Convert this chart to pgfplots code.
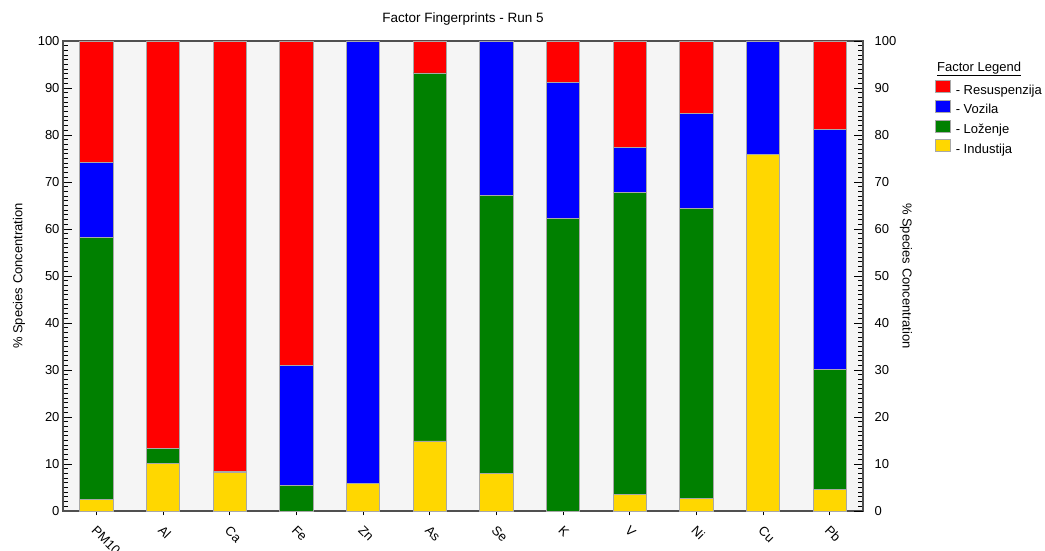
\documentclass[border=0pt]{standalone}
\usepackage{fontspec}
\setmainfont{Liberation Sans}
\usepackage{pgfplots}
\usepackage{pgfplotstable}
\pgfplotsset{compat=1.18}
\definecolor{cred}{HTML}{FF0000}
\definecolor{cblue}{HTML}{0000FF}
\definecolor{cgreen}{HTML}{008000}
\definecolor{cyellow}{HTML}{FFD700}
\definecolor{bgray}{HTML}{F5F5F5}
\definecolor{axgray}{HTML}{505050}
\definecolor{edgegray}{HTML}{A8A8A8}

% x: 0 PM10, 1 Al, 2 Ca, 3 Fe, 4 Zn, 5 As, 6 Se, 7 K, 8 V, 9 Ni, 10 Cu, 11 Pb
\pgfplotstableread{
x ind loz voz res
0  2.4  55.8 16.0 25.8
1  10.1 3.2  0.0  86.7
2  8.2  0.0  0.3  91.5
3  0.0  5.5  25.5 69.0
4  5.9  0.0  94.1 0.0
5  14.9 78.3 0.0  6.8
6  8.0  59.2 32.8 0.0
7  0.0  62.2 28.9 8.9
8  3.5  64.2 9.6  22.7
9  2.6  61.7 20.2 15.5
10 75.8 0.0  24.2 0.0
11 4.6  25.5 51.0 18.9
}\datatable

\begin{document}
\begin{tikzpicture}[font=\fontsize{13}{15}\selectfont]
\path[use as bounding box] (0,0) rectangle (1045pt,551pt);
\begin{axis}[
  at={(63pt,40pt)}, anchor=south west,
  scale only axis, width=800pt, height=470pt,
  xmin=-0.5, xmax=11.5, ymin=0, ymax=100,
  clip=false,
  ybar stacked, bar width=0.5,
  axis background/.style={fill=bgray},
  axis line style={draw=axgray, line width=1.2pt},
  xtick={0,...,11},
  xticklabels={PM10,Al,Ca,Fe,Zn,As,Se,K,V,Ni,Cu,Pb},
  xtick pos=bottom,
  xticklabel style={xshift=1pt, yshift=-9pt, rotate=-45, anchor=north west},
  x tick style={yshift=-4.5pt, black, line width=0.9pt},
  ytick={0,10,...,100}, minor y tick num=9,
  ytick pos=left,
  y tick style={black, line width=0.8pt},
  major tick length=9pt, minor tick length=5pt,
  tick align=inside,
  /pgf/number format/assume math mode=true,
  ylabel={\% Species Concentration},
  ylabel style={at={(rel axis cs:0,0.5)}, anchor=center, yshift=44pt},
  title={Factor Fingerprints - Run 5},
  title style={font=\fontsize{13.5}{15}\selectfont, at={(0.5,1)}, anchor=south, yshift=6pt},
  reverse legend,
  legend style={at={(1.0865,0.921)}, anchor=north west, draw=none, fill=none,
    legend cell align=left, row sep=1.8pt,
    nodes={inner sep=1pt, text height=10pt, text depth=3pt}},
  legend image code/.code={\draw[#1, draw=edgegray, line width=0.8pt] (0pt,-2pt) rectangle (15pt,10pt);},
  every axis plot/.append style={draw=edgegray, line width=0.8pt},
]
\addplot[fill=cyellow] table[x=x, y=ind] {\datatable};
\addplot[fill=cgreen] table[x=x, y=loz] {\datatable};
\addplot[fill=cblue] table[x=x, y=voz] {\datatable};
\addplot[fill=cred] table[x=x, y=res] {\datatable};
\legend{\ - Industija, \ - Loženje, \ - Vozila, \ - Resuspenzija}
\node[anchor=west, inner sep=0pt] at (rel axis cs:1.0925,0.94) {\underline{Factor Legend}};
\end{axis}
\begin{axis}[
  at={(63pt,40pt)}, anchor=south west,
  scale only axis, width=800pt, height=470pt,
  xmin=-0.5, xmax=11.5, ymin=0, ymax=100,
  axis y line*=right, hide x axis,
  axis line style={draw=axgray, line width=1.2pt},
  ytick={0,10,...,100}, minor y tick num=9,
  y tick style={black, line width=0.8pt},
  yticklabel style={xshift=8pt},
  major tick length=9pt, minor tick length=5pt,
  tick align=inside,
  /pgf/number format/assume math mode=true,
  ylabel={\% Species Concentration},
  ylabel style={at={(rel axis cs:1,0.5)}, anchor=center, rotate=180, yshift=43pt},
]
\end{axis}
\end{tikzpicture}
\end{document}
